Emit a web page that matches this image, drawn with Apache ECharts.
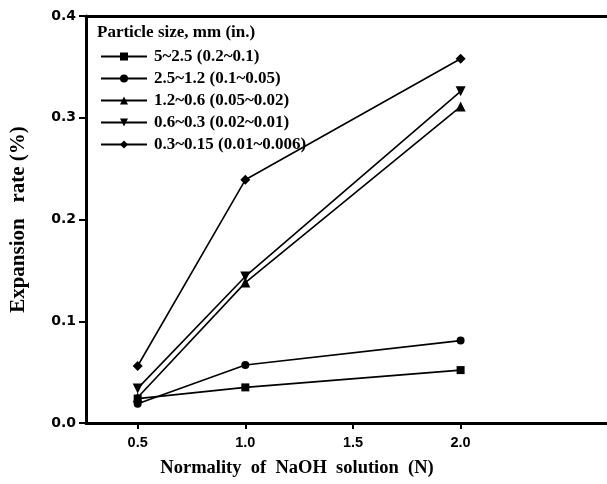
<!DOCTYPE html>
<html><head><meta charset="utf-8">
<script src="https://cdn.jsdelivr.net/npm/echarts@6/dist/echarts.min.js"></script>
<style>html,body{margin:0;padding:0;background:#fff}#c{width:607px;height:484px}</style>
</head><body><div id="c"></div>
<script>
const xValues = [0.5, 1.0, 2.0];
const xTicks = [0.5, 1.0, 1.5, 2.0];
const seriesNames = ['5~2.5 (0.2~0.1)', '2.5~1.2 (0.1~0.05)', '1.2~0.6 (0.05~0.02)', '0.6~0.3 (0.02~0.01)', '0.3~0.15 (0.01~0.006)'];
const s1 = [0.024, 0.035, 0.052];
const s2 = [0.019, 0.057, 0.081];
const s3 = [0.025, 0.138, 0.311];
const s4 = [0.034, 0.144, 0.326];
const s5 = [0.056, 0.239, 0.358];
const legendTitle = 'Particle size, mm (in.)';
const xName = 'Normality  of  NaOH  solution  (N)';
const yName = 'Expansion   rate (%)';
const symbols = ['rect', 'circle', 'triangle', 'path://M0,0 L10,0 L5,10 Z', 'diamond'];
const symSizes = [8, 8, 10, 10, 10];
const allValues = [s1, s2, s3, s4, s5];

const chart = echarts.init(document.getElementById('c'));
const series = allValues.map((vals, i) => ({
  name: seriesNames[i],
  type: 'line',
  data: xValues.map((x, j) => [x, vals[j]]),
  symbol: symbols[i],
  symbolSize: symSizes[i],
  showSymbol: true,
  lineStyle: {color: '#000', width: 1.6},
  itemStyle: {color: '#000'},
  z: 3
}));
chart.setOption({
  animation: false,
  backgroundColor: '#fff',
  grid: {left: 83, right: 0, top: 16, bottom: 61},
  title: {
    text: legendTitle,
    left: 97, top: 24, padding: 0,
    textStyle: {fontFamily: 'Liberation Serif', fontWeight: 'bold', fontSize: 17, color: '#000'}
  },
  graphic: [{
    type: 'text', x: 297, y: 468,
    style: {text: xName, textAlign: 'center', textVerticalAlign: 'middle',
      font: 'bold 18.5px "Liberation Serif"', fill: '#000'}
  }],
  legend: {
    orient: 'vertical', left: 100, top: 48, padding: 0,
    itemWidth: 46, itemHeight: 10, itemGap: 5,
    textStyle: {fontFamily: 'Liberation Serif', fontWeight: 'bold', fontSize: 17, lineHeight: 17, color: '#000', padding: [0, 0, 0, 2]},
    data: seriesNames
  },
  xAxis: [{
    type: 'value', min: 0.26, max: 2.68, interval: 0.5,
    position: 'bottom',
    axisLine: {onZero: false, lineStyle: {color: '#000', width: 3}},
    axisTick: {show: true, inside: false, length: 6, lineStyle: {color: '#000', width: 2}, customValues: xTicks},
    axisLabel: {fontFamily: 'Liberation Sans', fontWeight: 'bold', fontSize: 14.5, color: '#000', margin: 12,
      customValues: xTicks,
      formatter: v => v.toFixed(1)},
    splitLine: {show: false}
  }, {
    type: 'value', min: 0.26, max: 2.68, position: 'top',
    axisLine: {show: true, onZero: false, lineStyle: {color: '#000', width: 3}},
    axisTick: {show: false}, axisLabel: {show: false}, splitLine: {show: false}
  }],
  yAxis: {
    type: 'value', min: 0, max: 0.4, interval: 0.1,
    name: yName,
    nameLocation: 'middle', nameGap: 57,
    nameTextStyle: {fontFamily: 'Liberation Serif', fontWeight: 'bold', fontSize: 21, color: '#000'},
    axisLine: {show: true, lineStyle: {color: '#000', width: 3}},
    axisTick: {show: true, inside: false, length: 7, lineStyle: {color: '#000', width: 2}},
    axisLabel: {fontFamily: 'DejaVu Sans', fontWeight: 'bold', fontSize: 14, color: '#000', margin: 10,
      formatter: v => v.toFixed(1)},
    splitLine: {show: false}
  },
  series: series
});
</script></body></html>
